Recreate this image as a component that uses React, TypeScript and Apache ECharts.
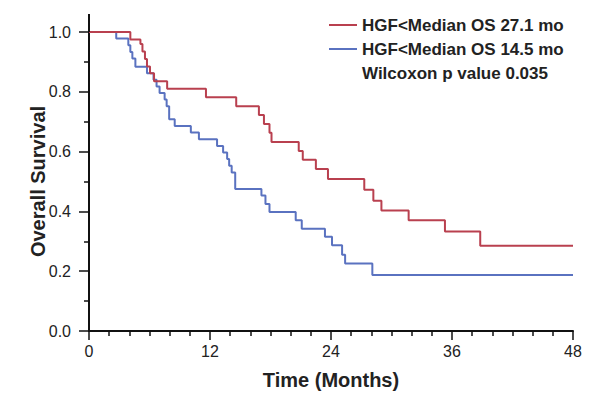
import React, { useEffect, useRef } from 'react';
import * as echarts from 'echarts';

const redName = 'HGF<Median OS 27.1 mo';
const blueName = 'HGF<Median OS 14.5 mo';
const noteName = 'Wilcoxon p value 0.035';

const redTime = [0, 4.1, 5.1, 5.3, 5.55, 5.75, 6.05, 6.45, 7.75, 11.6, 14.6, 16.85, 17.35, 17.9, 18.1, 20.8, 21.2, 22.5, 23.7, 27.3, 28.2, 29.0, 31.7, 35.3, 38.8, 48];
const redSurv = [1.0, 0.975, 0.96, 0.935, 0.91, 0.885, 0.862, 0.835, 0.81, 0.782, 0.752, 0.722, 0.692, 0.663, 0.632, 0.602, 0.573, 0.542, 0.508, 0.472, 0.436, 0.403, 0.37, 0.333, 0.285, 0.285];

const blueTime = [0, 2.7, 3.9, 4.1, 4.3, 4.6, 5.75, 6.4, 6.7, 7.0, 7.5, 7.7, 7.95, 8.5, 10.1, 10.9, 12.7, 13.3, 13.7, 13.9, 14.15, 14.5, 17.1, 17.5, 17.9, 20.5, 21.1, 23.4, 24.1, 25.1, 25.4, 28.1, 48];
const blueSurv = [1.0, 0.978, 0.956, 0.933, 0.911, 0.884, 0.862, 0.84, 0.818, 0.796, 0.774, 0.752, 0.708, 0.686, 0.664, 0.641, 0.619, 0.597, 0.575, 0.553, 0.53, 0.475, 0.453, 0.425, 0.398, 0.37, 0.342, 0.315, 0.287, 0.255, 0.226, 0.187, 0.187];

const FONT = '"Liberation Sans", Arial, Helvetica, sans-serif';
const RED = '#b9404f';
const BLUE = '#5a72c0';

export default function App() {
  const ref = useRef<HTMLDivElement>(null);
  useEffect(() => {
    const chart = echarts.init(ref.current!, null, { renderer: 'svg' });
    const option: any = {
      animation: false,
      backgroundColor: '#fff',
      textStyle: { fontFamily: FONT },
      grid: { left: 89, right: 25, top: 32, bottom: 62 },
      legend: {
        orient: 'vertical',
        left: 324,
        top: 11,
        itemWidth: 28,
        itemHeight: 2,
        itemGap: 6,
        icon: 'rect',
        selectedMode: false,
        textStyle: { fontFamily: FONT, fontSize: 17, fontWeight: 'bold', color: '#222', lineHeight: 18 },
        data: [
          { name: redName },
          { name: blueName },
          { name: noteName, icon: 'none' },
        ],
      },
      xAxis: {
        type: 'value',
        min: 0,
        max: 48,
        interval: 12,
        name: 'Time (Months)',
        nameLocation: 'middle',
        nameGap: 39,
        nameMoveOverlap: false,
        nameTextStyle: { fontFamily: FONT, fontSize: 20, fontWeight: 'bold', color: '#222' },
        axisLine: { lineStyle: { color: '#111', width: 2 } },
        axisTick: { length: 9, lineStyle: { color: '#111', width: 1.5 } },
        minorTick: { show: true, splitNumber: 6, length: 5, lineStyle: { color: '#111', width: 1.5 } },
        axisLabel: { margin: 12, fontSize: 16, color: '#222', fontFamily: FONT },
        splitLine: { show: false },
      },
      yAxis: {
        type: 'value',
        min: 0,
        max: 1,
        interval: 0.2,
        name: 'Overall Survival',
        nameLocation: 'middle',
        nameGap: 41,
        nameMoveOverlap: false,
        nameTextStyle: { fontFamily: FONT, fontSize: 20, fontWeight: 'bold', color: '#222' },
        axisLine: { show: true, lineStyle: { color: '#111', width: 2 } },
        axisTick: { show: true, length: 10, lineStyle: { color: '#111', width: 1.5 } },
        minorTick: { show: true, splitNumber: 2, length: 5, lineStyle: { color: '#111', width: 1.5 } },
        axisLabel: { margin: 18, fontSize: 16, color: '#222', fontFamily: FONT, formatter: (v: number) => v.toFixed(1) },
        splitLine: { show: false },
      },
      series: [
        {
          name: redName,
          type: 'line',
          step: 'end',
          symbol: 'none',
          color: RED,
          lineStyle: { color: RED, width: 2 },
          data: redTime.map((t, i) => [t, redSurv[i]]),
          z: 3,
        },
        {
          name: blueName,
          type: 'line',
          step: 'end',
          symbol: 'none',
          color: BLUE,
          lineStyle: { color: BLUE, width: 2 },
          data: blueTime.map((t, i) => [t, blueSurv[i]]),
          z: 2,
        },
        {
          name: noteName,
          type: 'line',
          symbol: 'none',
          lineStyle: { width: 0 },
          data: [],
        },
      ],
    };
    chart.setOption(option);
    const p = chart.convertToPixel({ gridIndex: 0 }, [0, 1]);
    chart.setOption({
      graphic: [
        {
          type: 'line',
          shape: { x1: p[0], y1: p[1], x2: p[0], y2: p[1] - 18 },
          style: { stroke: '#111', lineWidth: 2 },
          z: 10,
        },
      ],
    });
    return () => chart.dispose();
  }, []);
  return <div ref={ref} style={{ position: 'fixed', left: 0, top: 0, width: 598, height: 395 }} />;
}
